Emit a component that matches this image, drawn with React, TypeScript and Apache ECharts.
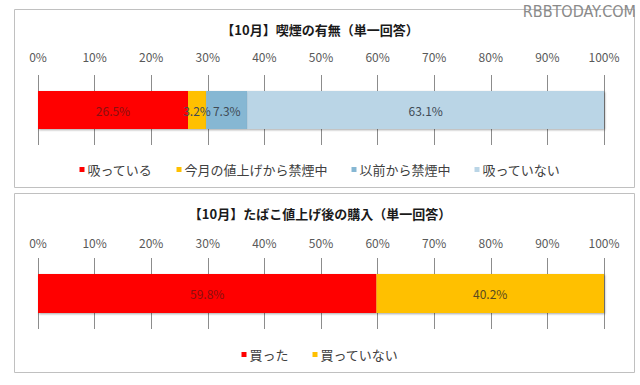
import React, { useEffect, useRef } from "react";
import * as echarts from "echarts";

const ticks = ["0%", "10%", "20%", "30%", "40%", "50%", "60%", "70%", "80%", "90%", "100%"];
const smokeNames = ["吸っている", "今月の値上げから禁煙中", "以前から禁煙中", "吸っていない"];
const smokeValues = [26.5, 3.2, 7.3, 63.1];
const smokeColors = ["#ff0000", "#ffc000", "#86b7d3", "#bad5e6"];
const buyNames = ["買った", "買っていない"];
const buyValues = [59.8, 40.2];
const buyColors = ["#ff0000", "#ffc000"];
const title1 = "【10月】喫煙の有無（単一回答）";
const title2 = "【10月】たばこ値上げ後の購入（単一回答）";

const FONT = "'Noto Sans CJK JP', 'Noto Sans', sans-serif";

export default function App() {
  const ref = useRef<HTMLDivElement>(null);
  useEffect(() => {
    if (!ref.current) return;
    const chart = echarts.init(ref.current, null, { renderer: "svg" });
    const xAxisBase = (gridIndex: number, margin: number) => ({
      type: "value",
      gridIndex,
      min: 0,
      max: 100,
      interval: 10,
      position: "top",
      axisLine: { show: false },
      axisTick: { show: false },
      splitLine: { show: true, lineStyle: { color: "#8c8c8c", width: 1 } },
      axisLabel: {
        formatter: (v: number) => ticks[Math.round(v / 10)],
        color: "#595959",
        fontSize: 12,
        fontFamily: FONT,
        margin,
      },
    });
    const yAxisBase = (gridIndex: number) => ({
      type: "category",
      gridIndex,
      data: [""],
      axisLine: { show: false },
      axisTick: { show: false },
      axisLabel: { show: false },
    });
    const mkSeries = (name: string, v: number, color: string, idx: number, stack: string, bw: number, labelColor: string) => ({
      type: "bar",
      name,
      stack,
      xAxisIndex: idx,
      yAxisIndex: idx,
      data: [v],
      barWidth: bw,
      itemStyle: {
        color,
        shadowColor: "rgba(0,0,0,0.35)",
        shadowBlur: 2,
        shadowOffsetY: 1,
        shadowOffsetX: 1,
      },
      label: {
        show: true,
        position: "inside",
        formatter: (p: any) => p.value.toFixed(1) + "%",
        color: labelColor,
        fontSize: 12,
        fontFamily: FONT,
      },
    });
    const series: any[] = [];
    smokeNames.forEach((n, i) =>
      series.push(mkSeries(n, smokeValues[i], smokeColors[i], 0, "a", 38, i === 0 ? "#8a1010" : "#404a55"))
    );
    buyNames.forEach((n, i) =>
      series.push(mkSeries(n, buyValues[i], buyColors[i], 1, "b", 39, i === 0 ? "#8a1010" : "#5a4a20"))
    );
    const legendBase = {
      icon: "rect",
      itemWidth: 5,
      itemHeight: 5,
      itemGap: 24,
      left: "center",
      textStyle: { color: "#404040", fontSize: 13, fontFamily: FONT, padding: [0, 0, 0, -2] },
    };
    chart.setOption({
      animation: false,
      backgroundColor: "#ffffff",
      title: [
        {
          text: title1,
          left: "center",
          top: 18,
          textStyle: { fontSize: 13, fontWeight: "bold", color: "#1a1a1a", fontFamily: FONT },
        },
        {
          text: title2,
          left: "center",
          top: 202,
          textStyle: { fontSize: 13, fontWeight: "bold", color: "#1a1a1a", fontFamily: FONT },
        },
      ],
      legend: [
        { ...legendBase, top: 158, data: smokeNames },
        { ...legendBase, top: 343, data: buyNames },
      ],
      grid: [
        { left: 38, right: 36, top: 75, height: 70 },
        { left: 38, right: 36, top: 258, height: 71 },
      ],
      xAxis: [xAxisBase(0, 13), xAxisBase(1, 10)],
      yAxis: [yAxisBase(0), yAxisBase(1)],
      series,
      graphic: [
        {
          type: "rect",
          shape: { x: 14.5, y: 9.5, width: 620, height: 178 },
          style: { fill: "none", stroke: "#c0c0c0", lineWidth: 1 },
          silent: true,
          z: -1,
        },
        {
          type: "rect",
          shape: { x: 14.5, y: 193.5, width: 620, height: 179 },
          style: { fill: "none", stroke: "#c0c0c0", lineWidth: 1 },
          silent: true,
          z: -1,
        },
        {
          type: "text",
          right: 4,
          top: 3,
          style: { text: "RBBTODAY.COM", fill: "#8a8a8a", fontSize: 16, fontFamily: "'DejaVu Sans Condensed', 'DejaVu Sans', sans-serif", fontWeight: 200 },
          silent: true,
        },
      ],
    });
    return () => chart.dispose();
  }, []);
  return (
    <div
      ref={ref}
      style={{ position: "fixed", left: 0, top: 0, width: 640, height: 385 }}
    />
  );
}
